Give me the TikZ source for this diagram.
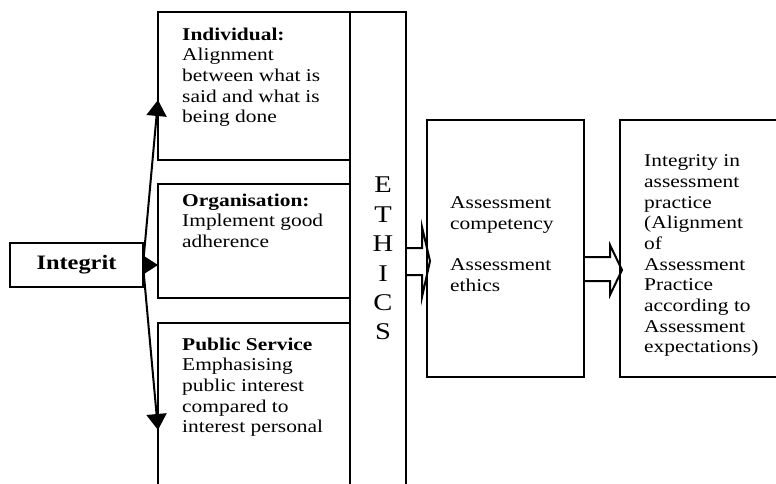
\documentclass[tikz,border=0pt]{standalone}
\usepackage{fontspec}
\setmainfont{Liberation Serif}[FakeStretch=1.19]
\usetikzlibrary{arrows.meta,calc}
\begin{document}
\begin{tikzpicture}[x=1pt,y=-1pt,
  box/.style={draw,line width=2pt,rectangle,inner sep=0pt,outer sep=0pt,anchor=north west},
  txt/.style={anchor=north west,inner sep=0pt,align=left,font=\fontsize{18}{20.7}\selectfont},
  arr/.style={line width=2pt,-{Triangle[length=16pt 0 0,width=20pt 0 0]}},
  blk/.style={line width=2pt,line join=miter}]
\useasboundingbox (0,0) rectangle (776,484);
\clip (0,0) rectangle (776,484);
% boxes
\node[box,minimum width=133pt,minimum height=44pt,font=\fontsize{20.5}{24}\selectfont\bfseries] (int) at (10,243) {Integrit};
\node[box,minimum width=192pt,minimum height=148pt] (ind) at (158,12) {};
\node[box,minimum width=192pt,minimum height=114pt] (org) at (158,184) {};
\node[box,minimum width=192pt,minimum height=175pt] (ps) at (158,323) {};
\node[box,minimum width=56pt,minimum height=486pt] (eth) at (350,12) {};
\node[box,minimum width=157pt,minimum height=257pt] (asm) at (427,120) {};
\node[box,minimum width=170pt,minimum height=257pt] (res) at (620,120) {};
% texts
\node[txt] (tind) at (182,27.5) {\textbf{Individual:}\\Alignment\\between what is\\said and what is\\being done};
\node[txt] (torg) at (182,193.5) {\textbf{Organisation:}\\Implement good\\adherence};
\node[txt] (tps) at (182,337.5) {\textbf{Public Service}\\Emphasising\\public interest\\compared to\\interest personal};
\node[anchor=north,inner sep=0pt,align=center,font=\fontsize{24}{29.4}\selectfont] (teth) at (383,177) {E\\T\\H\\I\\C\\S};
\node[txt] (tasm) at (450,196.5) {Assessment\\competency\\[20.7pt]Assessment\\ethics};
\node[txt] (tres) at (644,154.5) {Integrity in\\assessment\\practice\\(Alignment\\of\\Assessment\\Practice\\according to\\Assessment\\expectations)};
% arrows from Integrit
\coordinate (ta) at (0,100);
\coordinate (tb) at (0,430);
\draw[arr] (int.east) -- (ind.west |- ta);
\draw[arr] (int.east) -- (org.west |- int.east);
\draw[arr] (int.east) -- (ps.west |- tb);
% block arrows
\draw[blk] ($(eth.east|-asm.west)+(0,-0.5)$) -- ++(16,0) -- ++(0,-21) -- ++(8,34) -- ++(-8,36) -- ++(0,-22) -- ($(eth.east|-asm.west)+(0,26.5)$);
\draw[blk] ($(asm.east)+(0,8.5)$) -- ++(26,0) -- ++(0,-12) -- ++(12,25) -- ++(-12,25) -- ++(0,-14) -- ($(asm.east)+(0,32.5)$);
\end{tikzpicture}
\end{document}
